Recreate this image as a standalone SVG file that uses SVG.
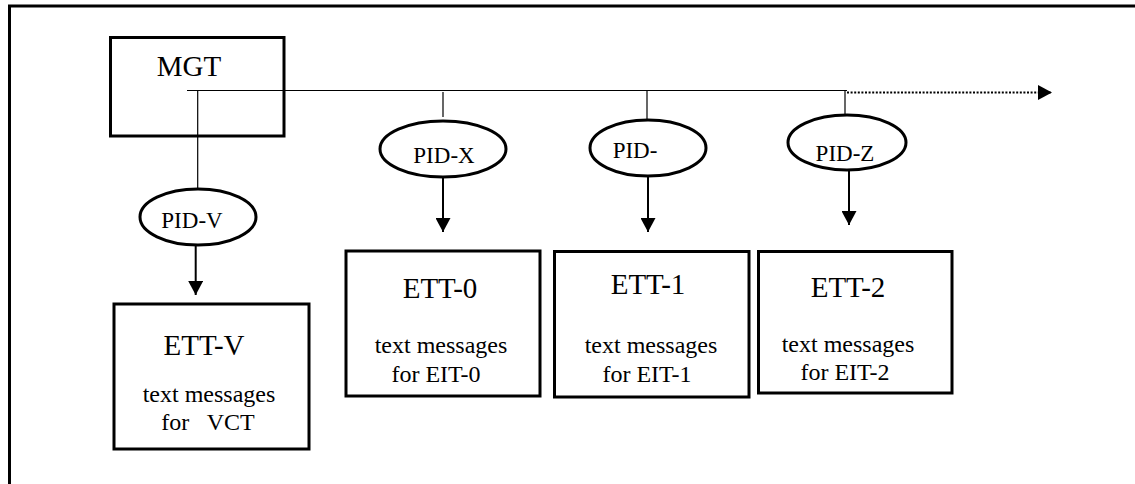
<svg xmlns="http://www.w3.org/2000/svg" width="1135" height="484" viewBox="0 0 1135 484">
  <defs>
    <marker id="arrow" markerUnits="userSpaceOnUse" viewBox="0 0 14 15" refX="14" refY="7.5" markerWidth="14" markerHeight="15" orient="auto">
      <path d="M0,0 L14,7.5 L0,15 Z" fill="#000"/>
    </marker>
  </defs>
  <style>
    .box { fill: #fff; stroke: #000; stroke-width: 3; }
    .oval { fill: #fff; stroke: #000; stroke-width: 3; }
    .thin { fill: none; stroke: #000; stroke-width: 1.2; }
    .arr { fill: none; stroke: #000; stroke-width: 2; marker-end: url(#arrow); }
    .dots { fill: none; stroke: #000; stroke-width: 2.2; stroke-dasharray: 2 1.6; marker-end: url(#arrow); }
    .lbl { fill: #000; text-anchor: middle; }
    .big { font-size: 29px; }
    .pid { font-size: 23px; }
    .small { font-size: 24px; }
  </style>

  <rect width="1135" height="484" fill="#fff"/>

  <!-- outer frame (continues past the right and bottom edges) -->
  <path d="M9.5,484 V6 H1140" fill="none" stroke="#000" stroke-width="3"/>

  <g id="mgt">
    <rect x="110.5" y="37.5" width="173.5" height="98.5" fill="none" stroke="#000" stroke-width="3"/>
    <text class="lbl big" font-family="'Liberation Serif', 'Times New Roman', 'DejaVu Serif', serif" x="189" y="76">MGT</text>
  </g>

  <!-- connectors -->
  <g id="connectors">
    <path class="thin" d="M187,90.5 H847"/>
    <path class="dots" d="M847,92.5 H1052"/>
    <path class="thin" d="M197.7,90.5 V189"/>
    <path class="thin" d="M443,92 V117"/>
    <path class="thin" d="M647,90.5 V119"/>
    <path class="thin" d="M845,90.5 V115"/>
    <path class="arr" d="M195.7,245 V295"/>
    <path class="arr" d="M443,177 V232"/>
    <path class="arr" d="M648,176 V232"/>
    <path class="arr" d="M849,170 V225"/>
  </g>

  <g font-family="'Liberation Serif', 'Times New Roman', 'DejaVu Serif', serif">
    <g id="pid-v">
      <ellipse class="oval" cx="198" cy="217" rx="58" ry="28"/>
      <text class="lbl pid" x="192" y="228">PID-V</text>
    </g>
    <g id="pid-x">
      <ellipse class="oval" cx="443" cy="149" rx="63" ry="28"/>
      <text class="lbl pid" x="444" y="163">PID-X</text>
    </g>
    <g id="pid-y">
      <ellipse class="oval" cx="648" cy="148" rx="58" ry="28"/>
      <text class="lbl pid" x="635" y="158">PID-</text>
    </g>
    <g id="pid-z">
      <ellipse class="oval" cx="847" cy="142.5" rx="59" ry="27.5"/>
      <text class="lbl pid" x="845" y="161">PID-Z</text>
    </g>

    <g id="ett-v">
      <rect class="box" x="114" y="304" width="195" height="145"/>
      <text class="lbl big" x="204" y="355">ETT-V</text>
      <text class="lbl small" x="209" y="402">text messages</text>
      <text class="lbl small" x="208" y="430" xml:space="preserve">for   VCT</text>
    </g>
    <g id="ett-0">
      <rect class="box" x="346" y="251" width="194" height="145"/>
      <text class="lbl big" x="440" y="298">ETT-0</text>
      <text class="lbl small" x="441" y="353">text messages</text>
      <text class="lbl small" x="436" y="382">for EIT-0</text>
    </g>
    <g id="ett-1">
      <rect class="box" x="554.5" y="251.5" width="194.5" height="145.5"/>
      <text class="lbl big" x="648" y="294">ETT-1</text>
      <text class="lbl small" x="651" y="353">text messages</text>
      <text class="lbl small" x="647" y="382">for EIT-1</text>
    </g>
    <g id="ett-2">
      <rect class="box" x="758.5" y="251.5" width="193.5" height="141.5"/>
      <text class="lbl big" x="848" y="297">ETT-2</text>
      <text class="lbl small" x="848" y="352">text messages</text>
      <text class="lbl small" x="845" y="380">for EIT-2</text>
    </g>
  </g>
</svg>
